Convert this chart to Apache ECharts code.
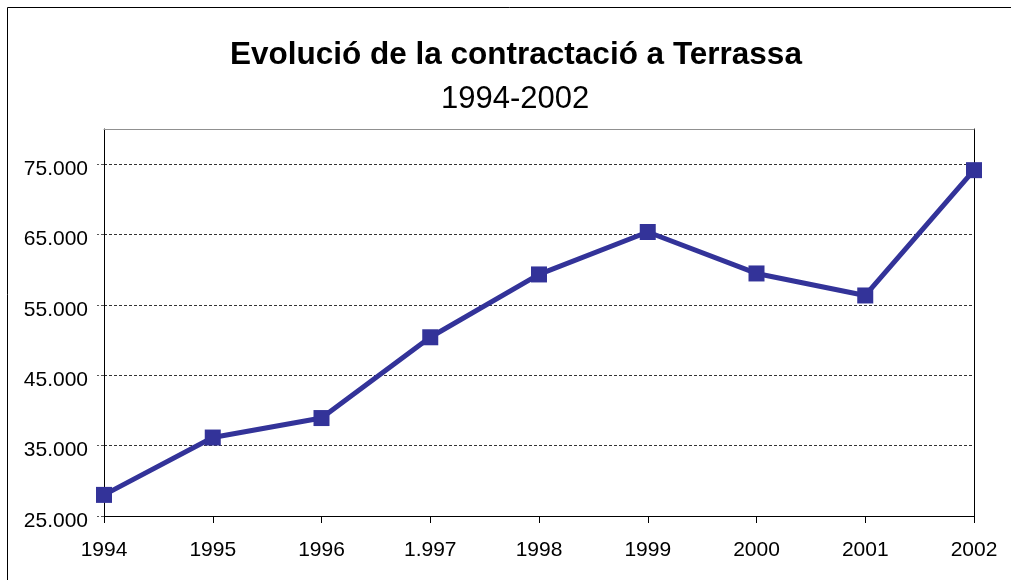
<!DOCTYPE html>
<html>
<head>
<meta charset="utf-8">
<script src="https://cdn.jsdelivr.net/npm/echarts@6/dist/echarts.min.js"></script>
<style>
  html, body { margin: 0; padding: 0; background: #fff; }
  #chart { width: 1011px; height: 580px; }
</style>
</head>
<body>
<div id="chart"></div>
<script>
// dades llegides del gràfic
const years = ["1994", "1995", "1996", "1.997", "1998", "1999", "2000", "2001", "2002"];
const contractes = [28000, 36150, 38920, 50400, 59330, 65360, 59470, 56340, 74150];
const yTicks = [25000, 35000, 45000, 55000, 65000, 75000];

const chartDom = document.getElementById("chart");
const myChart = echarts.init(chartDom);

const fmt = (v) => String(v).replace(/\B(?=(\d{3})+(?!\d))/g, ".");
const font = "'Liberation Sans', Arial, sans-serif";

const option = {
  backgroundColor: "#fff",
  animation: false,
  graphic: [
    {
      type: "rect",
      shape: { x: 7.5, y: 7.5, width: 1010, height: 580 },
      style: { fill: "none", stroke: "#000", lineWidth: 1 },
    },
  ],
  title: [
    {
      text: "Evolució de la contractació a Terrassa",
      left: 230,
      top: 39,
      padding: 0,
      textStyle: { fontFamily: font, fontSize: 31.5, fontWeight: "bold", color: "#000" },
    },
    {
      text: "1994-2002",
      left: 441,
      top: 84,
      padding: 0,
      textStyle: { fontFamily: font, fontSize: 31, fontWeight: "normal", color: "#000" },
    },
  ],
  grid: { left: 104, right: 37, top: 129, bottom: 64 },
  xAxis: [
    {
      type: "category",
      data: years,
      boundaryGap: false,
      axisLine: { lineStyle: { color: "#000", width: 1 } },
      axisTick: { show: true, length: 7, lineStyle: { color: "#000" } },
      axisLabel: { fontFamily: font, fontSize: 21, color: "#000", margin: 24 },
      splitLine: { show: false },
    },
    {
      type: "category",
      data: years,
      position: "top",
      boundaryGap: false,
      axisLine: { lineStyle: { color: "#909090", width: 1 } },
      axisTick: { show: false },
      axisLabel: { show: false },
    },
  ],
  yAxis: [
    {
      type: "value",
      min: 25000,
      max: 80000,
      axisLine: { show: true, lineStyle: { color: "#000", width: 1 } },
      axisTick: { show: true, length: 7, customValues: yTicks, lineStyle: { color: "#555", type: [3, 2] } },
      axisLabel: {
        customValues: yTicks,
        formatter: fmt,
        fontFamily: font,
        fontSize: 21,
        color: "#000",
        margin: 16,
        verticalAlign: "top",
        lineHeight: 10,
      },
      splitLine: { show: true, lineStyle: { color: "#333", width: 1, type: [3, 2] } },
    },
    {
      type: "value",
      min: 25000,
      max: 80000,
      position: "right",
      axisLine: { show: true, lineStyle: { color: "#000", width: 1 } },
      axisTick: { show: false },
      axisLabel: { show: false },
      splitLine: { show: false },
    },
  ],
  series: [
    {
      type: "line",
      data: contractes,
      symbol: "rect",
      symbolSize: 16,
      lineStyle: { color: "#333399", width: 5 },
      itemStyle: { color: "#333399" },
    },
  ],
};
option && myChart.setOption(option);
</script>
</body>
</html>
